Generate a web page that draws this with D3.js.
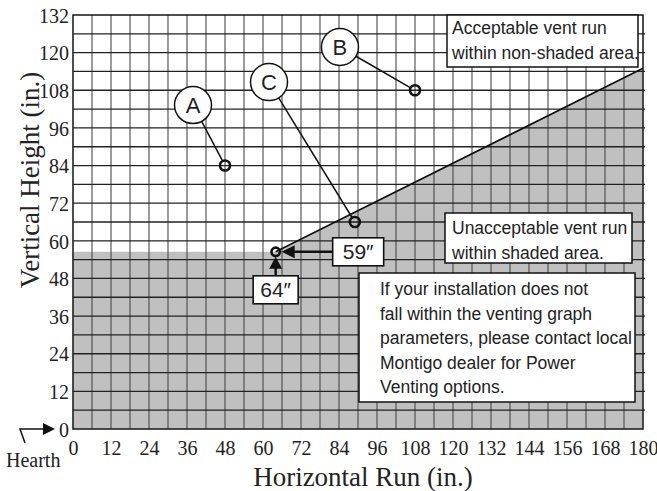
<!DOCTYPE html>
<html>
<head>
<meta charset="utf-8">
<script src="https://cdn.jsdelivr.net/npm/d3@7"></script>
<style>
  body { margin: 0; background: #fff; }
</style>
</head>
<body>
<svg id="chart" width="657" height="491"></svg>
<script>
var SERIF = "'Liberation Serif', 'Times New Roman', serif";
var SANS = "'Liberation Sans', Arial, sans-serif";

// tick labels
var xTicks = [0, 12, 24, 36, 48, 60, 72, 84, 96, 108, 120, 132, 144, 156, 168, 180];
var yTicks = [0, 12, 24, 36, 48, 60, 72, 84, 96, 108, 120, 132];

// boundary of the shaded (unacceptable) area
var boundaryX = [0, 64, 180];
var boundaryY = [56.5, 56.5, 115];

// example vent points and their letter bubbles
var pointNames = ["A", "B", "C"];
var pointX = [48, 108, 89];
var pointY = [84, 108, 66];
var bubbleX = [37.9, 84.3, 61.9];
var bubbleY = [103.3, 121.8, 110.6];

// corner values
var cornerRun = 64;
var cornerHeight = 56.5;
var cornerLabels = ["59\u2033", "64\u2033"];

var okText = ["Acceptable vent run", "within non-shaded area."];
var badText = ["Unacceptable vent run", "within shaded area."];
var noteText = ["If your installation does not", "fall within the venting graph",
  "parameters, please contact local", "Montigo dealer for Power", "Venting options."];

var svg = d3.select("#chart"),
    margin = {top: 15, right: 14, bottom: 62, left: 73},
    width = +svg.attr("width") - margin.left - margin.right,
    height = +svg.attr("height") - margin.top - margin.bottom;

var x = d3.scaleLinear().domain([0, 180]).range([0, width]);
var y = d3.scaleLinear().domain([0, 132]).range([height, 0]);

var g = svg.append("g")
    .attr("transform", "translate(" + margin.left + "," + margin.top + ")");

// shaded area
var shade = [[0, 0]];
for (var i = 0; i < boundaryX.length; i++) shade.push([boundaryX[i], boundaryY[i]]);
shade.push([180, 0]);
g.append("path")
    .datum(shade)
    .attr("fill", "#c0c0c0")
    .attr("d", d3.line().x(function(d) { return x(d[0]); }).y(function(d) { return y(d[1]); }));

// grid
g.selectAll(".vgrid").data(d3.range(6, 180, 6)).enter().append("line")
    .attr("x1", function(d) { return x(d); }).attr("x2", function(d) { return x(d); })
    .attr("y1", 0).attr("y2", height)
    .attr("stroke", "#4a4a4a").attr("stroke-width", 1.1);
g.selectAll(".hgrid").data(d3.range(6, 132, 6)).enter().append("line")
    .attr("x1", 0).attr("x2", width + 2)
    .attr("y1", function(d) { return y(d); }).attr("y2", function(d) { return y(d); })
    .attr("stroke", "#222").attr("stroke-width", 1.3);

g.append("rect")
    .attr("width", width).attr("height", height)
    .attr("fill", "none").attr("stroke", "#222").attr("stroke-width", 1.6);

// diagonal limit line
g.append("line")
    .attr("x1", x(boundaryX[1])).attr("y1", y(boundaryY[1]))
    .attr("x2", x(boundaryX[2])).attr("y2", y(boundaryY[2]))
    .attr("stroke", "#111").attr("stroke-width", 1.6);

// axes
var xAxis = d3.axisBottom(x).tickValues(xTicks).tickSize(0).tickPadding(12);
var yAxis = d3.axisLeft(y).tickValues(yTicks).tickSize(0).tickPadding(4);

var gx = g.append("g").attr("transform", "translate(0," + height + ")").call(xAxis);
var gy = g.append("g").call(yAxis);
[gx, gy].forEach(function(ax) {
  ax.attr("font-family", SERIF).attr("font-size", 20);
  ax.select(".domain").remove();
  ax.selectAll(".tick text").attr("fill", "#222");
});
gx.selectAll(".tick text").attr("dy", "0.71em");
gy.selectAll(".tick text").attr("dy", "0.36em");

svg.append("text")
    .attr("x", 363).attr("y", 486)
    .attr("text-anchor", "middle")
    .attr("font-family", SERIF).attr("font-size", 27).attr("fill", "#222")
    .text("Horizontal Run (in.)");

svg.append("text")
    .attr("transform", "translate(39,180) rotate(-90)")
    .attr("text-anchor", "middle")
    .attr("font-family", SERIF).attr("font-size", 27).attr("fill", "#222")
    .text("Vertical Height (in.)");

// hearth marker
svg.append("text")
    .attr("x", 6).attr("y", 467)
    .attr("font-family", SERIF).attr("font-size", 20).attr("fill", "#222")
    .text("Hearth");
svg.append("path")
    .attr("d", "M25,443 L20,429 L44,429")
    .attr("fill", "none").attr("stroke", "#111").attr("stroke-width", 1.5);
svg.append("path")
    .attr("d", "M43,423 L55,429 L43,435 Z")
    .attr("fill", "#111");

// leader lines and bubbles
pointNames.forEach(function(name, i) {
  var cx = x(bubbleX[i]), cy = y(bubbleY[i]);
  var tx = x(pointX[i]), ty = y(pointY[i]);
  var dx = tx - cx, dy = ty - cy, len = Math.sqrt(dx * dx + dy * dy);
  var r = 18.5;
  g.append("line")
      .attr("x1", cx + dx / len * r).attr("y1", cy + dy / len * r)
      .attr("x2", tx - dx / len * 5).attr("y2", ty - dy / len * 5)
      .attr("stroke", "#111").attr("stroke-width", 1.5);
  g.append("circle")
      .attr("cx", cx).attr("cy", cy).attr("r", r)
      .attr("fill", "#fff").attr("stroke", "#111").attr("stroke-width", 1.5);
  g.append("text")
      .attr("x", cx).attr("y", cy)
      .attr("dy", "0.36em")
      .attr("text-anchor", "middle")
      .attr("font-family", SANS).attr("font-size", 22).attr("fill", "#222")
      .text(name);
  g.append("circle")
      .attr("cx", tx).attr("cy", ty).attr("r", 5)
      .attr("fill", "none").attr("stroke", "#111").attr("stroke-width", 2.6);
});

// corner point
var kx = x(cornerRun), ky = y(cornerHeight);
g.append("circle")
    .attr("cx", kx).attr("cy", ky).attr("r", 4.2)
    .attr("fill", "none").attr("stroke", "#111").attr("stroke-width", 2.6);

// 59" callout (points left)
g.append("line")
    .attr("x1", kx + 18).attr("y1", ky).attr("x2", kx + 58).attr("y2", ky)
    .attr("stroke", "#111").attr("stroke-width", 2.5);
g.append("path")
    .attr("d", "M" + (kx + 6) + "," + ky + " L" + (kx + 19) + "," + (ky - 6.5) + " L" + (kx + 19) + "," + (ky + 6.5) + " Z")
    .attr("fill", "#111");
g.append("rect")
    .attr("x", kx + 57).attr("y", ky - 14).attr("width", 51).attr("height", 28)
    .attr("fill", "#fff").attr("stroke", "#111").attr("stroke-width", 1.6);
g.append("text")
    .attr("x", kx + 82.5).attr("y", ky).attr("dy", "0.36em")
    .attr("text-anchor", "middle")
    .attr("font-family", SANS).attr("font-size", 21).attr("fill", "#222")
    .text(cornerLabels[0]);

// 64" callout (points up)
g.append("line")
    .attr("x1", kx).attr("y1", ky + 16).attr("x2", kx).attr("y2", ky + 25)
    .attr("stroke", "#111").attr("stroke-width", 2.5);
g.append("path")
    .attr("d", "M" + kx + "," + (ky + 5) + " L" + (kx - 6.5) + "," + (ky + 17) + " L" + (kx + 6.5) + "," + (ky + 17) + " Z")
    .attr("fill", "#111");
g.append("rect")
    .attr("x", kx - 22.5).attr("y", ky + 24).attr("width", 45).attr("height", 28)
    .attr("fill", "#fff").attr("stroke", "#111").attr("stroke-width", 1.6);
g.append("text")
    .attr("x", kx).attr("y", ky + 38).attr("dy", "0.36em")
    .attr("text-anchor", "middle")
    .attr("font-family", SANS).attr("font-size", 21).attr("fill", "#222")
    .text(cornerLabels[1]);

// text boxes (page pixel coordinates)
function textBox(x0, y0, w, h, lines, tx, ty0, step) {
  svg.append("rect")
      .attr("x", x0).attr("y", y0).attr("width", w).attr("height", h)
      .attr("fill", "#fff").attr("stroke", "#111").attr("stroke-width", 1.5);
  lines.forEach(function(t, i) {
    svg.append("text")
        .attr("x", tx).attr("y", ty0 + i * step).attr("dy", "0.36em")
        .attr("font-family", SANS).attr("font-size", 17.5).attr("fill", "#222")
        .text(t);
  });
}
textBox(447, 15, 191, 52, okText, 452, 28, 25);
textBox(445, 213, 187, 50, badText, 452, 228, 25);
textBox(359, 273, 276, 129, noteText, 380, 289, 24.5);
</script>
</body>
</html>
